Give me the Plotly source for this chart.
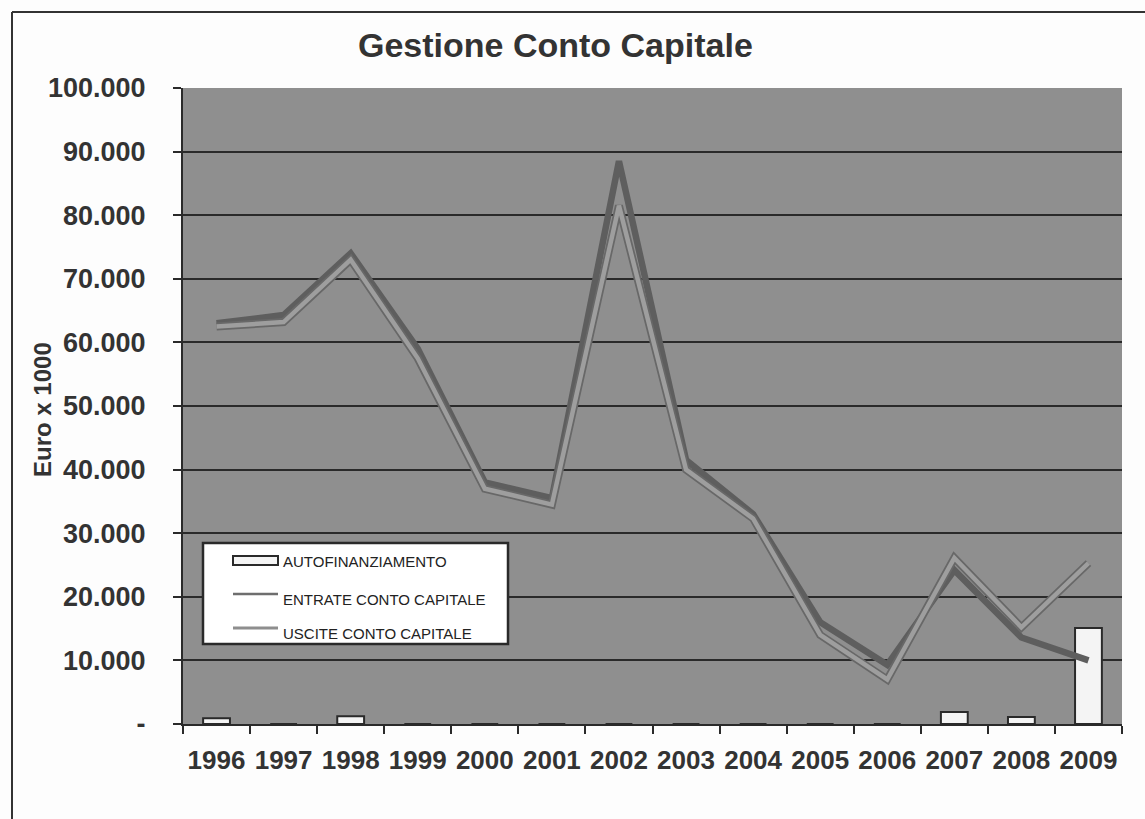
import plotly.graph_objects as go

# ---- data (Euro x 1000) ----
years = ["1996", "1997", "1998", "1999", "2000", "2001", "2002",
         "2003", "2004", "2005", "2006", "2007", "2008", "2009"]
autofinanziamento = [900, 0, 1200, 0, 0, 0, 0, 0, 0, 0, 0, 1900, 1100, 15100]
entrate = [63000, 64300, 74000, 59000, 38000, 35500, 88500,
           41500, 33000, 16000, 9300, 24200, 13600, 10000]
uscite = [62500, 63200, 73000, 57500, 37000, 34500, 81500,
          40000, 32300, 14000, 7000, 26100, 15200, 25300]
y_ticks = [0, 10000, 20000, 30000, 40000, 50000, 60000, 70000, 80000, 90000, 100000]
y_ticktext = ["-" if v == 0 else f"{v:,}".replace(",", ".") for v in y_ticks]
legend_names = ["AUTOFINANZIAMENTO", "ENTRATE CONTO CAPITALE", "USCITE CONTO CAPITALE"]

# ---- page geometry ----
W, H = 1145, 819
L, R, T, B = 183, 1122, 88, 724


def px(x):
    return (x - L) / (R - L)


def py(y):
    return (B - y) / (B - T)


FONT = "Liberation Sans, Arial, sans-serif"
DARK = "#2a2a2a"

fig = go.Figure()

fig.add_trace(go.Bar(
    x=years, y=autofinanziamento, name=legend_names[0], width=0.4,
    marker=dict(color="#f4f4f4", line=dict(color=DARK, width=2)),
    showlegend=False,
))
fig.add_trace(go.Scatter(
    x=years, y=entrate, name=legend_names[1], mode="lines",
    line=dict(color="#5e5e5e", width=6.5), showlegend=False,
))
# light line with a darker rim
fig.add_trace(go.Scatter(
    x=years, y=uscite, mode="lines", hoverinfo="skip",
    line=dict(color="#686868", width=8), showlegend=False,
))
fig.add_trace(go.Scatter(
    x=years, y=uscite, name=legend_names[2], mode="lines",
    line=dict(color="#9e9e9e", width=4.5), showlegend=False,
))

shapes = []
annotations = []

# outer frame (left and top edges)
shapes.append(dict(type="line", xref="paper", yref="paper",
                   x0=px(12), x1=px(12), y0=py(12), y1=py(830),
                   line=dict(color="#333", width=2)))
shapes.append(dict(type="line", xref="paper", yref="paper",
                   x0=px(12), x1=px(1160), y0=py(12), y1=py(12),
                   line=dict(color="#333", width=2)))

# legend box
shapes.append(dict(type="rect", xref="paper", yref="paper",
                   x0=px(203), x1=px(508), y0=py(543), y1=py(644),
                   fillcolor="white", line=dict(color=DARK, width=2.5)))
# legend symbols
shapes.append(dict(type="rect", xref="paper", yref="paper",
                   x0=px(233), x1=px(278), y0=py(556), y1=py(565),
                   fillcolor="#f4f4f4", line=dict(color=DARK, width=2)))
shapes.append(dict(type="line", xref="paper", yref="paper",
                   x0=px(233), x1=px(278), y0=py(594), y1=py(594),
                   line=dict(color="#6e6e6e", width=2.5)))
shapes.append(dict(type="line", xref="paper", yref="paper",
                   x0=px(233), x1=px(278), y0=py(628), y1=py(628),
                   line=dict(color="#8e8e8e", width=3)))
for name, yc in zip(legend_names, [561, 599, 633]):
    annotations.append(dict(text=name, xref="paper", yref="paper",
                            x=px(281), y=py(yc), xanchor="left", yanchor="middle",
                            showarrow=False,
                            font=dict(family=FONT, size=15, color="#222")))

# title
annotations.append(dict(text="<b>Gestione Conto Capitale</b>", xref="paper", yref="paper",
                        x=px(555), y=py(45), xanchor="center", yanchor="middle",
                        showarrow=False, font=dict(family=FONT, size=34, color="#333")))
# y-axis title
annotations.append(dict(text="<b>Euro x 1000</b>", xref="paper", yref="paper",
                        x=px(42), y=py(410), xanchor="center", yanchor="middle",
                        textangle=-90, showarrow=False,
                        font=dict(family=FONT, size=24, color="#333")))

fig.update_layout(
    width=W, height=H,
    margin=dict(l=L, r=W - R, t=T, b=H - B),
    paper_bgcolor="#fdfdfd",
    plot_bgcolor="#8f8f8f",
    bargap=0.6,
    shapes=shapes,
    annotations=annotations,
    xaxis=dict(
        type="category", tickson="boundaries", ticks="outside", ticklen=8,
        tickcolor=DARK, tickwidth=2, showgrid=False, tickangle=0,
        showline=True, linecolor=DARK, linewidth=2,
        tickfont=dict(family=FONT, size=26, color="#333", weight="bold"),
        ticklabelstandoff=12,
    ),
    yaxis=dict(
        range=[0, 100000], tickvals=y_ticks, ticktext=y_ticktext,
        ticks="outside", ticklen=8, tickcolor=DARK, tickwidth=2,
        showgrid=True, gridcolor=DARK, gridwidth=1.5, zeroline=False,
        showline=True, linecolor=DARK, linewidth=2,
        tickfont=dict(family=FONT, size=27, color="#333", weight="bold"),
        ticklabelstandoff=22,
    ),
)

fig.write_html("out.html")
